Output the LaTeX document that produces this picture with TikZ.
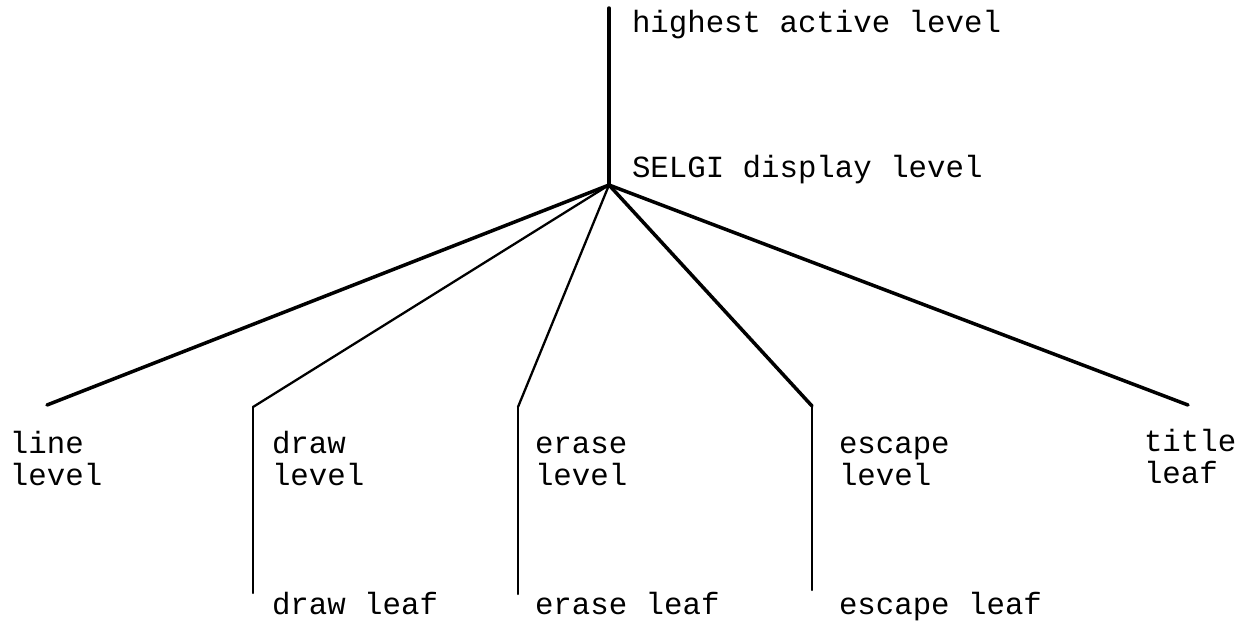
\documentclass[tikz,border=0pt]{standalone}
\usepackage{fontspec}
\setmonofont{Liberation Mono}
\tikzset{%
    lbl/.style={inner sep=0pt,outer sep=0pt,anchor=base west,align=left,
        font=\ttfamily\fontsize{17.5}{18.2}\selectfont},
    branch/.style={line width=2pt,line cap=round},
    thin branch/.style={line width=1.3pt,line cap=round},
    stem/.style={line width=1.4pt,line cap=round},
}
\begin{document}
\begin{tikzpicture}[x=0.02cm,y=-0.02cm]
        \useasboundingbox (0,0) rectangle (1251,620);
        % trunk
        \coordinate (top) at (609,8);
        \coordinate (selgi) at (609,185);
        \node [lbl] (highest) at (632,32) {highest active level};
        \node [lbl] (display) at (632,177) {SELGI display level};
        \draw [branch] (top) -- (selgi);

        % second level
        \coordinate (line) at (47,405);
        \coordinate (draw) at (253,407);
        \coordinate (erase) at (518,407);
        \coordinate (escape) at (812,406);
        \coordinate (title) at (1188,405);
        \draw [branch] (selgi) -- (line);
        \draw [thin branch] (selgi) -- (draw);
        \draw [thin branch] (selgi) -- (erase);
        \draw [branch] (selgi) -- (escape);
        \draw [branch] (selgi) -- (title);
        \node [lbl] (linelevel) at (10,485) {line\\level};
        \node [lbl] (drawlevel) at (272,485) {draw\\level};
        \node [lbl] (eraselevel) at (535,485) {erase\\level};
        \node [lbl] (escapelevel) at (839,485) {escape\\level};
        \node [lbl] (titleleaf) at (1144,483) {title\\leaf};

        % leaves
        \coordinate (drawend) at (253,593);
        \coordinate (eraseend) at (518,594);
        \coordinate (escapeend) at (812,590);
        \draw [stem] (draw) -- (drawend);
        \draw [stem] (erase) -- (eraseend);
        \draw [stem] (escape) -- (escapeend);
        \node [lbl] (drawleaf) at (272,614) {draw leaf};
        \node [lbl] (eraseleaf) at (535,614) {erase leaf};
        \node [lbl] (escapeleaf) at (839,614) {escape leaf};
      \end{tikzpicture}
\end{document}
